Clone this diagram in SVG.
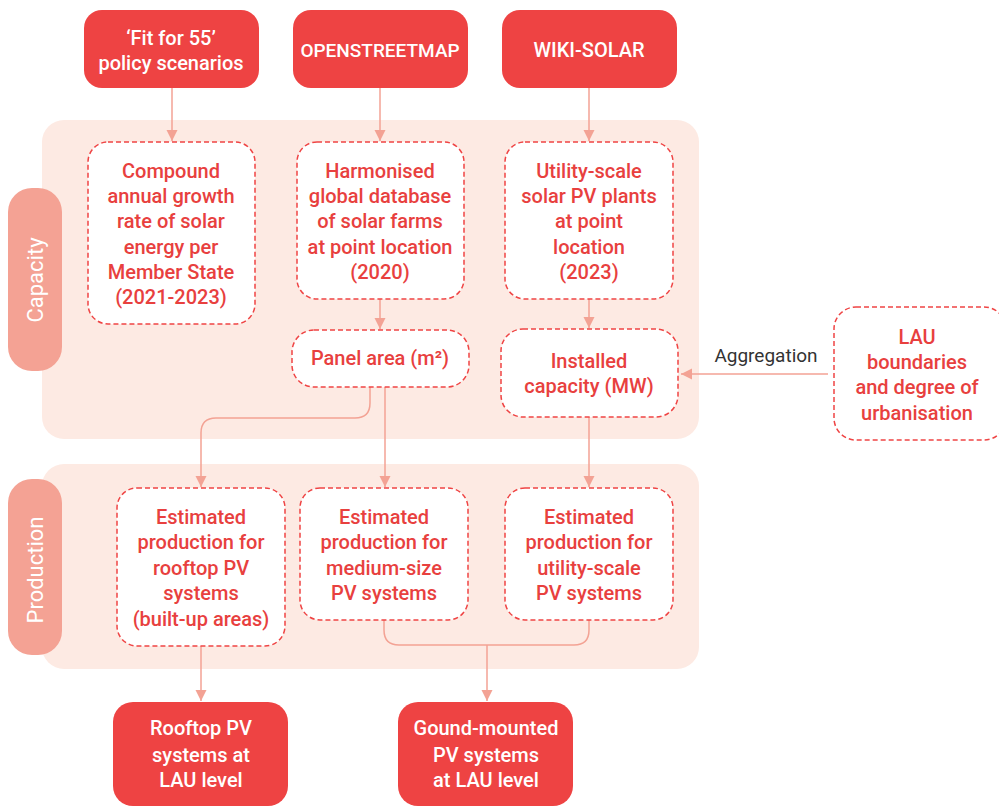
<svg xmlns="http://www.w3.org/2000/svg" width="999" height="808" viewBox="0 0 999 808">
<defs>
<marker id="ah" markerUnits="userSpaceOnUse" markerWidth="12" markerHeight="12" viewBox="0 0 12 12" refX="11" refY="6" orient="auto">
<path d="M0,0.5 L11,6 L0,11.5 Z" fill="#f3a294"/>
</marker>
<style>
.band{fill:#fdeae3}
.pill{fill:#f4a294}
.src{fill:#ee4343}
.dash{fill:#fff;stroke:#ef4444;stroke-width:1.5;stroke-dasharray:5 3}
.t{font-family:Roboto,"Liberation Sans",sans-serif;font-size:20px;font-weight:500;text-anchor:middle}
.w{fill:#fff}
.r{fill:#e8403e}
.lbl{font-family:Roboto,"Liberation Sans",sans-serif;font-size:22px;font-weight:400;fill:#fff;text-anchor:middle}
.agg{font-family:Roboto,"Liberation Sans",sans-serif;font-size:19px;fill:#333;text-anchor:middle}
.c{fill:none;stroke:#f3a294;stroke-width:1.5}
</style>
</defs>
<rect class="band" x="42" y="120" width="657" height="319" rx="22"/>
<rect class="band" x="42" y="464" width="657" height="205" rx="22"/>
<g id="capacity-label"><rect class="pill" x="8" y="188" width="54" height="183" rx="24"/><text class="lbl" transform="translate(43,280) rotate(-90)">Capacity</text></g>
<g id="production-label"><rect class="pill" x="8" y="479" width="54" height="176" rx="24"/><text class="lbl" transform="translate(43,570) rotate(-90)">Production</text></g>
<g id="connectors">
<path class="c" d="M172,88 V141" marker-end="url(#ah)"/>
<path class="c" d="M380,88 V141" marker-end="url(#ah)"/>
<path class="c" d="M589,88 V141" marker-end="url(#ah)"/>
<path class="c" d="M380,299 V329" marker-end="url(#ah)"/>
<path class="c" d="M589,299 V328" marker-end="url(#ah)"/>
<path class="c" d="M370,387 V403 Q370,418 355,418 H216 Q201,418 201,433 V487" marker-end="url(#ah)"/>
<path class="c" d="M385,387 V487" marker-end="url(#ah)"/>
<path class="c" d="M589,417 V487" marker-end="url(#ah)"/>
<path class="c" d="M828,374 H681" marker-end="url(#ah)"/>
<path class="c" d="M201,646 V701" marker-end="url(#ah)"/>
<path class="c" d="M384,620 V630 Q384,645 399,645 H574 Q589,645 589,630 V620"/>
<path class="c" d="M487,645 V701" marker-end="url(#ah)"/>
</g>
<text class="agg" x="766" y="362">Aggregation</text>
<g id="fit55"><rect class="src" x="84" y="10" width="175" height="78" rx="18"/><text class="t w" x="171" y="45">‘Fit for 55’</text><text class="t w" x="171" y="70">policy scenarios</text></g>
<g id="osm"><rect class="src" x="293" y="10" width="175" height="78" rx="18"/><text class="t w" x="380" y="57" style="font-size:19px">OPENSTREETMAP</text></g>
<g id="wiki"><rect class="src" x="502" y="10" width="175" height="78" rx="18"/><text class="t w" x="589" y="57">WIKI-SOLAR</text></g>
<g id="cagr"><rect class="dash" x="88" y="142" width="167" height="182" rx="20"/>
<text class="t r" x="171" y="178">Compound</text><text class="t r" x="171" y="203">annual growth</text><text class="t r" x="171" y="228">rate of solar</text><text class="t r" x="171" y="254">energy per</text><text class="t r" x="171" y="279">Member State</text><text class="t r" x="171" y="304">(2021-2023)</text></g>
<g id="harmonised"><rect class="dash" x="297" y="142" width="167" height="157" rx="20"/>
<text class="t r" x="380" y="178">Harmonised</text><text class="t r" x="380" y="203">global database</text><text class="t r" x="380" y="228">of solar farms</text><text class="t r" x="380" y="254">at point location</text><text class="t r" x="380" y="279">(2020)</text></g>
<g id="utility"><rect class="dash" x="505" y="142" width="168" height="157" rx="20"/>
<text class="t r" x="589" y="178">Utility-scale</text><text class="t r" x="589" y="203">solar PV plants</text><text class="t r" x="589" y="228">at point</text><text class="t r" x="589" y="254">location</text><text class="t r" x="589" y="279">(2023)</text></g>
<g id="panel"><rect class="dash" x="292" y="330" width="177" height="57" rx="22"/><text class="t r" x="380" y="365">Panel area (m²)</text></g>
<g id="installed"><rect class="dash" x="501" y="329" width="177" height="88" rx="22"/><text class="t r" x="589" y="368">Installed</text><text class="t r" x="589" y="393">capacity (MW)</text></g>
<g id="lau"><rect class="dash" x="834" y="307" width="172" height="133" rx="22"/>
<text class="t r" x="917" y="344">LAU</text><text class="t r" x="917" y="369">boundaries</text><text class="t r" x="917" y="394">and degree of</text><text class="t r" x="917" y="420">urbanisation</text></g>
<g id="rooftop-est"><rect class="dash" x="117" y="488" width="168" height="158" rx="20"/>
<text class="t r" x="201" y="524">Estimated</text><text class="t r" x="201" y="549">production for</text><text class="t r" x="201" y="575">rooftop PV</text><text class="t r" x="201" y="600">systems</text><text class="t r" x="201" y="626">(built-up areas)</text></g>
<g id="medium-est"><rect class="dash" x="300" y="488" width="168" height="132" rx="20"/>
<text class="t r" x="384" y="524">Estimated</text><text class="t r" x="384" y="549">production for</text><text class="t r" x="384" y="575">medium-size</text><text class="t r" x="384" y="600">PV systems</text></g>
<g id="utility-est"><rect class="dash" x="505" y="488" width="168" height="132" rx="20"/>
<text class="t r" x="589" y="524">Estimated</text><text class="t r" x="589" y="549">production for</text><text class="t r" x="589" y="575">utility-scale</text><text class="t r" x="589" y="600">PV systems</text></g>
<g id="rooftop-lau"><rect class="src" x="113" y="702" width="175" height="104" rx="20"/>
<text class="t w" x="201" y="735">Rooftop PV</text><text class="t w" x="201" y="762">systems at</text><text class="t w" x="201" y="787">LAU level</text></g>
<g id="ground-lau"><rect class="src" x="398" y="702" width="175" height="104" rx="20"/>
<text class="t w" x="486" y="735">Gound-mounted</text><text class="t w" x="486" y="762">PV systems</text><text class="t w" x="486" y="787">at LAU level</text></g>
</svg>
